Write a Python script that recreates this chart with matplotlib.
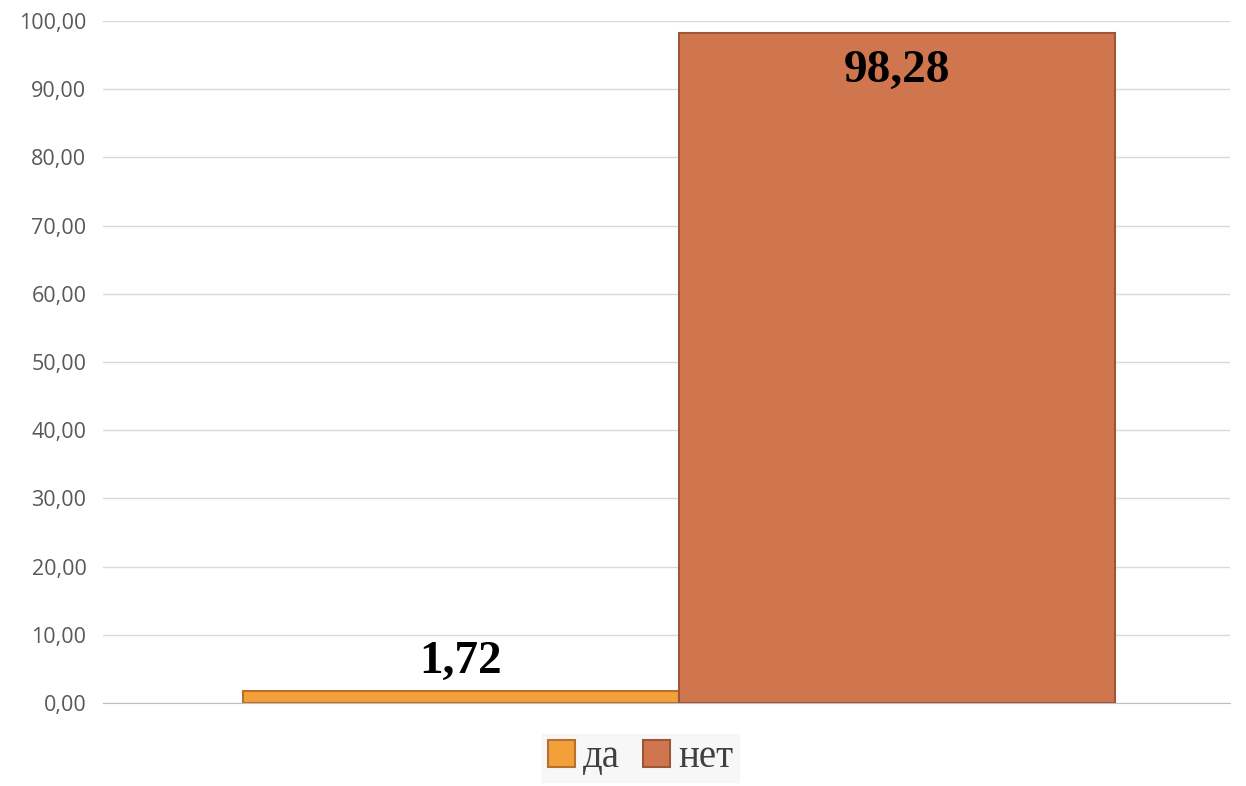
import matplotlib.pyplot as plt
from matplotlib.ticker import FuncFormatter

series = ['да', 'нет']
values = [1.72, 98.28]
colors = ['#F4A03A', '#D0764F']
edges = ['#B8712A', '#9E5638']
label_texts = ['1,72', '98,28']

fig = plt.figure(figsize=(12.46, 7.86), dpi=100)
ax = fig.add_axes([0.0827, 0.1056, 0.9043, 0.8677])

# one category, two adjacent series bars
positions = [-0.5, 0.5]
for pos, val, c, ec, name in zip(positions, values, colors, edges, series):
    ax.bar(pos, val, width=1.0, color=c, edgecolor=ec, linewidth=1.5, label=name, zorder=3)

ax.set_xlim(-1.321, 1.264)
ax.set_ylim(0, 100)
ax.set_yticks(range(0, 101, 10))
ax.yaxis.set_major_formatter(FuncFormatter(lambda v, p: f'{v:.2f}'.replace('.', ',')))
ax.set_xticks([])
ax.grid(axis='y', color='#D9D9D9', linewidth=1, zorder=0)
for s in ['top', 'right', 'left']:
    ax.spines[s].set_visible(False)
ax.spines['bottom'].set_color('#BFBFBF')
ax.tick_params(axis='y', length=0, labelsize=15.5, labelcolor='#595959', pad=12)
for t in ax.get_yticklabels():
    t.set_fontfamily('Open Sans')

# data labels
ax.text(positions[0], values[0] + 1.2, label_texts[0], ha='center', va='bottom',
        fontsize=34, fontweight='bold', family='Liberation Serif', zorder=5)
ax.text(positions[1], values[1] - 2.5, label_texts[1], ha='center', va='top',
        fontsize=34, fontweight='bold', family='Liberation Serif', zorder=5)

leg = fig.legend(loc='lower center', bbox_to_anchor=(0.514, -0.02), ncol=2, frameon=True,
                 prop={'family': 'Liberation Serif', 'size': 28}, handlelength=0.7,
                 handleheight=0.7, handletextpad=0.2, columnspacing=0.6,
                 borderpad=0.15, fancybox=False)
leg.get_frame().set_facecolor('#F5F5F5')
leg.get_frame().set_edgecolor('#F5F5F5')
for t in leg.get_texts():
    t.set_color('#404040')

fig.savefig('out.png', dpi=100)
